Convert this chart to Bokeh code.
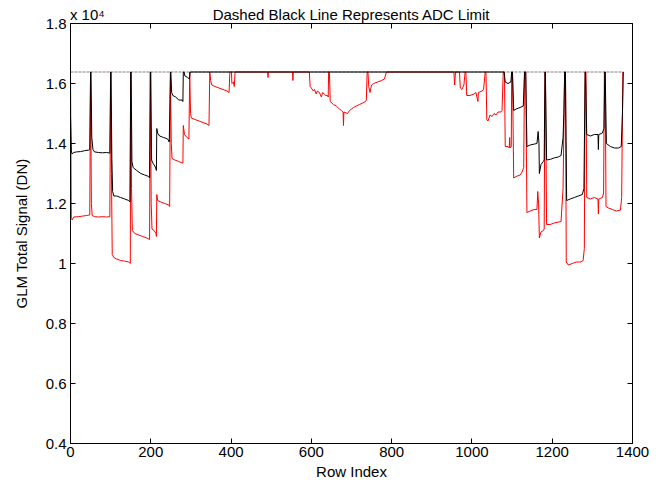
from bokeh.plotting import figure
from bokeh.models import Range1d, FixedTicker, LinearAxis, CustomJSTickFormatter
from bokeh.embed import file_html
from bokeh.resources import INLINE

# ---- data (DN) ----
adc_limit = 16383
limit_x = [0, 1378]

black_x = [0, 2, 4, 8, 15, 25, 35, 45, 48,
           50, 51, 53, 56, 60, 70, 80, 90, 98,
           100, 101, 103, 105, 108, 115, 125, 135, 145, 148,
           150, 151, 153, 156, 165, 175, 185, 195, 197,
           199, 200, 202, 206, 210, 213, 214, 215, 217, 222, 232, 242, 246,
           249, 250, 252, 255, 262, 270, 278, 280,
           281, 283, 285, 292, 296, 298,
           1080, 1083, 1090, 1097, 1099, 1101,
           1104, 1110, 1120, 1128, 1131, 1134,
           1137, 1145, 1155, 1162, 1165, 1167, 1168, 1172, 1178, 1180,
           1182, 1183, 1186, 1195, 1205, 1215, 1222, 1227, 1229,
           1231, 1233, 1236, 1245, 1255, 1265, 1275, 1279,
           1282, 1283, 1286, 1295, 1305, 1314, 1315, 1316, 1325, 1329,
           1331, 1332, 1335, 1345, 1355, 1365, 1372, 1375, 1377]
black_y = [14900, 13750, 13650, 13700, 13720, 13730, 13760, 13780, 13800,
           16383, 16383, 14200, 13800, 13720, 13700, 13690, 13700, 13680,
           16383, 16383, 13500, 12400, 12250, 12250, 12200, 12150, 12100, 12050,
           16383, 16383, 13400, 13200, 13100, 13000, 12950, 12900, 12850,
           16383, 16383, 13450, 13330, 13250, 13150, 13100, 14500, 14350, 14250, 14200, 14150, 14050,
           16383, 16383, 15700, 15600, 15550, 15450, 15450, 15400,
           16383, 16383, 16250, 16200, 16150, 16383,
           16383, 16050, 16000, 16050, 16383, 16383,
           15100, 15150, 15200, 15250, 16383, 16383,
           13900, 13950, 13980, 14000, 14400, 14000, 13000, 13300, 13400, 13450,
           16383, 16383, 13450, 13470, 13520, 13550, 13600, 14200, 15000,
           16383, 16383, 12100, 12150, 12200, 12250, 12300, 12500,
           16383, 16383, 14300, 14250, 14300, 14300, 13800, 14300, 14350, 14500,
           16383, 16383, 14000, 13900, 13850, 13850, 13900, 15000, 16383]

red_x = [0, 2, 4, 8, 20, 30, 40, 48,
         50, 52, 54, 60, 70, 80, 90, 98,
         100, 102, 104, 108, 115, 125, 135, 145, 149,
         150, 152, 154, 160, 170, 180, 190, 197,
         199, 201, 203, 208, 213, 214, 215, 217, 225, 235, 245, 247,
         249, 251, 253, 260, 270, 278, 280, 281, 284, 290, 295,
         297, 299, 301, 310, 320, 330, 340, 345,
         347, 349, 352, 360, 370, 380, 390, 395, 397, 401, 402, 406, 408, 410,
         491, 492, 493, 553, 554, 555,
         595, 597, 600, 605, 608, 612, 615, 620, 625, 628, 632, 636, 640, 642,
         643, 645, 647, 655, 662, 670, 675, 679, 680, 681, 690, 695, 700, 705, 712, 720, 728, 735, 737,
         739, 741, 743, 746, 750, 755, 765, 775, 782, 787,
         955, 957, 959, 969, 971, 975, 980, 983, 985,
         987, 995, 1005, 1010, 1015, 1016, 1025, 1029, 1033, 1035,
         1037, 1040, 1045, 1050, 1055, 1060, 1065, 1072, 1075, 1078, 1081,
         1083, 1090, 1093, 1094, 1095, 1098, 1099, 1101,
         1104, 1110, 1120, 1125, 1129, 1131, 1134,
         1137, 1145, 1155, 1162, 1164, 1166, 1168, 1172, 1178, 1180,
         1182, 1183, 1186, 1195, 1205, 1215, 1222, 1227, 1231,
         1233, 1235, 1240, 1250, 1260, 1270, 1277, 1280, 1282,
         1284, 1286, 1295, 1305, 1314, 1315, 1316, 1325, 1328, 1330,
         1332, 1334, 1340, 1350, 1360, 1370, 1373, 1376]
red_y = [16383, 11500, 11450, 11550, 11560, 11580, 11600, 11620,
         16383, 12000, 11600, 11560, 11550, 11560, 11550, 11560,
         16383, 13000, 10300, 10200, 10150, 10100, 10080, 10050, 10000,
         16383, 12500, 11100, 11000, 10950, 10900, 10850, 10800,
         16383, 12000, 11150, 11100, 11000, 10900, 12300, 12100, 12050, 12000, 11950, 11900,
         16383, 14000, 13500, 13450, 13400, 13350, 13350, 14600, 14300, 14200, 14150,
         16383, 15000, 14850, 14800, 14750, 14700, 14650, 14600,
         16383, 16100, 15950, 15900, 15850, 15800, 15750, 15700, 16383, 16383, 16000, 16050, 15900, 16383,
         16383, 16200, 16383, 16383, 16100, 16383,
         16383, 15900, 15850, 15750, 15800, 15650, 15750, 15700, 15550, 15700, 15650, 15600, 15600, 15550,
         16383, 16383, 15400, 15300, 15250, 15150, 15100, 15050, 14600, 15050, 15000, 15100, 15150, 15200, 15250, 15300, 15350, 15400, 15450,
         16383, 16383, 15900, 15700, 15950, 16000, 16050, 16100, 16150, 16383,
         16383, 15950, 16383, 16383, 15850, 15800, 15950, 16383, 16383,
         15600, 15600, 15650, 15700, 15400, 15700, 15750, 15800, 16383, 16383,
         14800, 14750, 14950, 14900, 15000, 14950, 15050, 15050, 15100, 16383, 16383,
         13900, 13900, 13850, 14200, 13850, 13900, 16383, 16383,
         12850, 12900, 12950, 13050, 13200, 16383, 16383,
         11700, 11750, 11800, 11800, 12400, 12000, 10850, 11050, 11100, 11150,
         16383, 16383, 11300, 11300, 11350, 11380, 11400, 12500, 16383,
         16383, 10050, 9950, 10000, 10050, 10050, 10100, 10500, 16383,
         16383, 12200, 12150, 12200, 12150, 11650, 12150, 12200, 12350, 16383,
         16383, 11900, 11850, 11800, 11750, 11780, 12200, 16383]

x_ticks = [0, 200, 400, 600, 800, 1000, 1200, 1400]
y_ticks = [4000, 6000, 8000, 10000, 12000, 14000, 16000, 18000]

title_text = "Dashed Black Line Represents ADC Limit"
x_label = "Row Index"
y_label = "GLM Total Signal (DN)"
scale_text = "x 10\u2074"
# x positions (data units) where the header texts are centred
header_pos = [42, 700]

FONT = "Liberation Sans"
FS = "15px"

p = figure(frame_width=562, frame_height=420, output_backend="svg", toolbar_location=None,
           x_range=Range1d(0, 1400), y_range=Range1d(4000, 18000),
           min_border_left=70, min_border_right=27, min_border_top=23, min_border_bottom=42)
p.background_fill_color = "white"
p.border_fill_color = "white"
p.outline_line_color = "black"
p.outline_line_width = 1
p.xgrid.visible = False
p.ygrid.visible = False

fmt = CustomJSTickFormatter(code="return String(Math.round(tick/1000)/10);")
blank = CustomJSTickFormatter(code="return '';")

def style_axis(ax, show_labels=True):
    ax.major_tick_in = 5
    ax.major_tick_out = 0
    ax.minor_tick_in = 0
    ax.minor_tick_out = 0
    ax.axis_line_color = "black"
    ax.major_tick_line_color = "black"
    ax.major_label_text_font = FONT
    ax.major_label_text_color = "black"
    ax.axis_label_text_font = FONT
    ax.axis_label_text_font_style = "normal"
    ax.axis_label_text_font_size = FS
    ax.axis_label_text_color = "black"
    ax.major_label_text_font_size = FS
    if not show_labels:
        ax.formatter = blank
        ax.major_label_standoff = 0

p.xaxis.ticker = FixedTicker(ticks=x_ticks)
p.yaxis.ticker = FixedTicker(ticks=y_ticks)
p.yaxis.formatter = fmt
p.xaxis.axis_label = x_label
p.yaxis.axis_label = y_label
style_axis(p.xaxis[0])
style_axis(p.yaxis[0])
p.xaxis.major_label_standoff = 3
p.xaxis.axis_label_standoff = 3
p.yaxis.major_label_standoff = 4
p.yaxis.axis_label_standoff = 13

top_ax = LinearAxis(ticker=FixedTicker(ticks=x_ticks))
right_ax = LinearAxis(ticker=FixedTicker(ticks=y_ticks))
style_axis(top_ax, False)
style_axis(right_ax, False)
p.add_layout(top_ax, "above")
p.add_layout(right_ax, "right")

# header row: exponent note and title, carried by a tick-less top axis
head_ax = LinearAxis(ticker=FixedTicker(ticks=header_pos),
                     major_label_overrides={header_pos[0]: scale_text, header_pos[1]: title_text})
style_axis(head_ax, True)
head_ax.major_tick_in = 0
head_ax.axis_line_color = None
head_ax.major_tick_line_color = None
head_ax.major_label_standoff = 1
p.add_layout(head_ax, "above")

# limit line, red series, black series
p.line(limit_x, [adc_limit, adc_limit], line_color="black", line_dash="3 1", line_width=1, line_alpha=0.5)
p.line(red_x, red_y, line_color="red", line_width=1)
p.line(black_x, black_y, line_color="black", line_width=1)

open("out.html", "w").write(file_html(p, INLINE))
